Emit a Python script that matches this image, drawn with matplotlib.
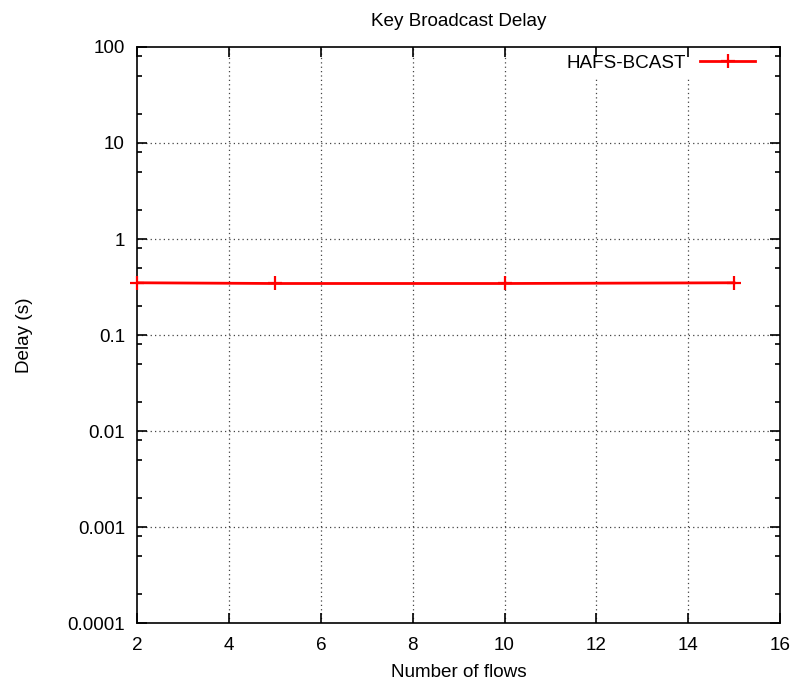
"""
Key broadcast delay versus number of flows (gnuplot-style log plot).
"""

import matplotlib

matplotlib.use("Agg")
import matplotlib.pyplot as plt
import matplotlib.ticker as mticker

flows = [2, 5, 10, 15]
delay = [0.350, 0.344, 0.344, 0.350]
series_label = "HAFS-BCAST"

x_ticks = [2, 4, 6, 8, 10, 12, 14, 16]
y_ticks = [1e-4, 1e-3, 1e-2, 1e-1, 1, 10, 100]


def main():
    plt.rcParams["font.family"] = ["Liberation Sans", "DejaVu Sans"]
    plt.rcParams["font.size"] = 13.6

    figure = plt.figure(figsize=(7.97, 6.86), dpi=100)
    axes = figure.add_axes([0.1725, 0.0918, 0.806, 0.8397])

    axes.plot(
        flows,
        delay,
        color="#ff0000",
        linewidth=2,
        marker="+",
        markersize=10,
        markeredgewidth=1.6,
        clip_on=False,
        zorder=3,
        label=series_label,
    )

    axes.set_yscale("log")
    axes.set_xlim(2, 16)
    axes.set_ylim(1e-4, 100)
    axes.set_xticks(x_ticks)
    axes.set_yticks(y_ticks)
    axes.yaxis.set_major_formatter(mticker.FuncFormatter(lambda v, _: "%g" % v))
    axes.yaxis.set_minor_locator(mticker.LogLocator(base=10, subs=[2, 5, 8]))
    axes.yaxis.set_minor_formatter(mticker.NullFormatter())

    axes.tick_params(which="both", direction="in", top=True, right=True, width=1.2)
    axes.tick_params(axis="x", which="major", pad=10)
    axes.tick_params(axis="y", which="major", pad=9)
    axes.tick_params(which="major", length=7)
    axes.tick_params(which="minor", length=3.5)
    for spine in axes.spines.values():
        spine.set_linewidth(1.2)

    # dotted grid at the major ticks, kept under the legend box
    grid_style = dict(color="#444444", linestyle=(0, (1, 2.5)), linewidth=0.9, zorder=0.5)
    for x in x_ticks[1:-1]:
        axes.axvline(x, **grid_style)
    for y in y_ticks[1:-1]:
        axes.axhline(y, **grid_style)

    axes.set_title("Key Broadcast Delay", fontsize=13.6, pad=15)
    axes.set_xlabel("Number of flows")
    axes.set_ylabel("Delay (s)")
    axes.xaxis.set_label_coords(0.5, -0.072)
    axes.yaxis.set_label_coords(-0.162, 0.5)

    legend = axes.legend(
        loc="upper right",
        bbox_to_anchor=(0.973, 1.0),
        borderaxespad=0,
        markerfirst=False,
        frameon=True,
        fancybox=False,
        edgecolor="white",
        framealpha=1,
        handlelength=2.9,
        handletextpad=0.74,
    )
    legend.get_frame().set_linewidth(0)
    legend.set_zorder(1)

    figure.savefig("out.png", dpi=100)


if __name__ == "__main__":
    main()
